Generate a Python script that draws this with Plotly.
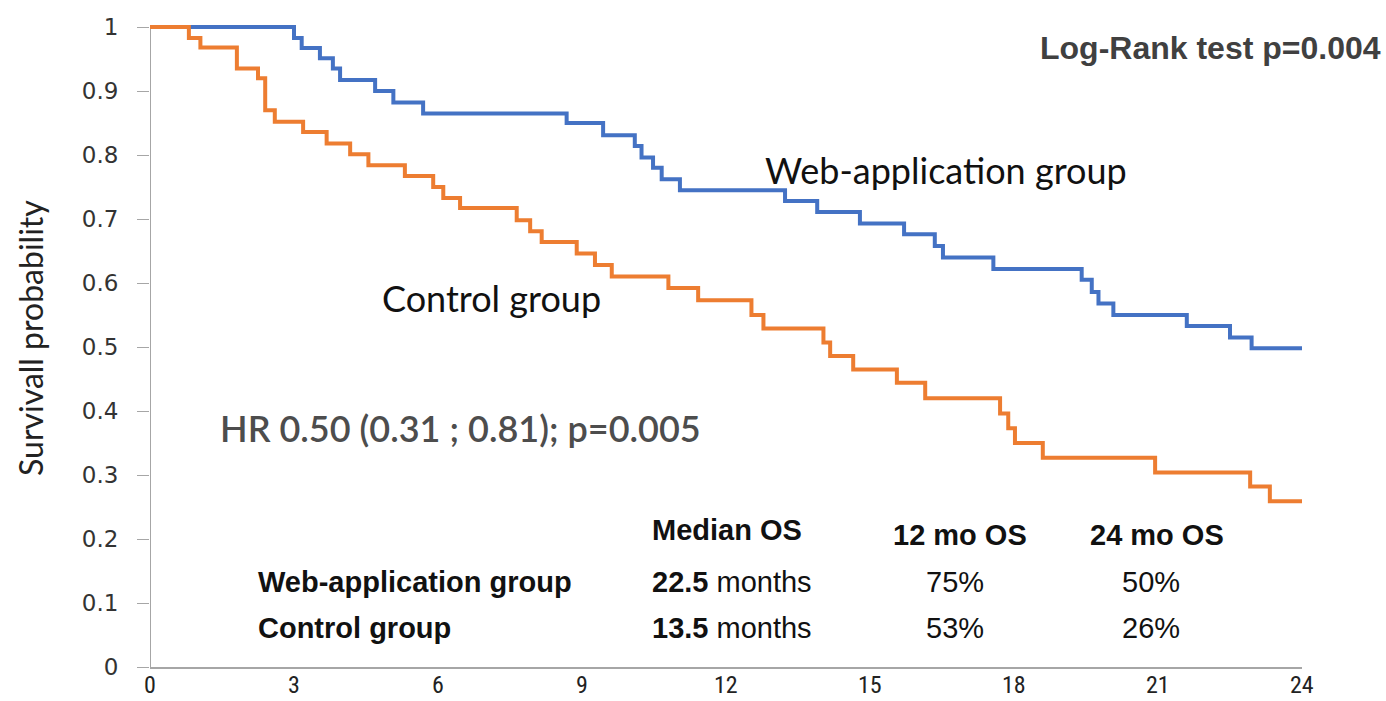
import plotly.graph_objects as go

# ---- data ----
web_months = [0, 3.0, 3.16, 3.54, 3.81, 3.96, 4.69, 5.07, 5.69, 8.68, 9.44, 10.1, 10.24, 10.48,
              10.66, 11.04, 13.23, 13.9, 14.79, 15.71, 16.35, 16.52, 17.57, 19.41, 19.62, 19.76,
              20.07, 21.6, 22.5, 22.95, 24]
web_surv = [1, 0.983, 0.967, 0.951, 0.935, 0.917, 0.90, 0.882, 0.865, 0.85, 0.831, 0.814, 0.796,
            0.78, 0.762, 0.745, 0.728, 0.711, 0.693, 0.676, 0.658, 0.64, 0.622, 0.605, 0.586,
            0.568, 0.55, 0.533, 0.515, 0.498, 0.498]

ctrl_months = [0, 0.81, 1.05, 1.81, 2.25, 2.4, 2.6, 3.19, 3.68, 4.17, 4.55, 5.31, 5.9, 6.11, 6.46,
               7.64, 7.92, 8.16, 8.89, 9.27, 9.62, 10.8, 11.42, 12.53, 12.78, 14.03, 14.17, 14.65,
               15.56, 16.15, 17.71, 17.88, 18.02, 18.6, 20.94, 22.92, 23.33, 24]
ctrl_surv = [1, 0.983, 0.968, 0.935, 0.92, 0.87, 0.852, 0.836, 0.818, 0.801, 0.784, 0.767, 0.75,
             0.733, 0.717, 0.698, 0.681, 0.664, 0.646, 0.628, 0.61, 0.592, 0.573, 0.55, 0.529,
             0.507, 0.486, 0.465, 0.444, 0.42, 0.396, 0.373, 0.35, 0.327, 0.304, 0.282, 0.259,
             0.259]

x_ticks = [0, 3, 6, 9, 12, 15, 18, 21, 24]
y_ticks = [0, 0.1, 0.2, 0.3, 0.4, 0.5, 0.6, 0.7, 0.8, 0.9, 1]
y_tick_labels = ["0", "0.1", "0.2", "0.3", "0.4", "0.5", "0.6", "0.7", "0.8", "0.9", "1"]

table_groups = ["Web-application group", "Control group"]
median_os = ["22.5", "13.5"]
os12 = ["75%", "53%"]
os24 = ["50%", "26%"]

BLUE = "#4472C4"
ORANGE = "#ED7D31"
AXIS = "#A6A6A6"

W, H = 1386, 701
L, R, T, B = 150, 84, 17, 34

fig = go.Figure()
fig.add_trace(go.Scatter(x=web_months, y=web_surv, mode="lines", line_shape="hv",
                         line=dict(color=BLUE, width=4), name="Web-application group"))
fig.add_trace(go.Scatter(x=ctrl_months, y=ctrl_surv, mode="lines", line_shape="hv",
                         line=dict(color=ORANGE, width=4), name="Control group"))

# y axis line (0..1)
fig.add_shape(type="line", xref="x", yref="y", x0=0, x1=0, y0=0, y1=1,
              line=dict(color=AXIS, width=2), layer="below")


def px_x(px):
    return (px - L) / (W - L - R)


def px_y(py):
    return (H - B - py) / (H - T - B)


ann = []
ann.append(dict(text="<b>Log-Rank test p=0.004</b>", x=px_x(1383), y=px_y(48), xanchor="right",
                font=dict(family="Liberation Sans, Arial", size=32, color="#404040")))
ann.append(dict(text="Web-application group", x=px_x(763), y=px_y(170), xanchor="left",
                font=dict(family="Lato", size=36, color="#111111")))
ann.append(dict(text="Control group", x=px_x(380), y=px_y(298), xanchor="left",
                font=dict(family="Lato", size=36, color="#111111")))
ann.append(dict(text="HR 0.50 (0.31 ; 0.81); p=0.005", x=px_x(218), y=px_y(428), xanchor="left",
                font=dict(family="Lato", size=36, color="#4d4d4d", weight=600)))
tf = dict(family="Liberation Sans, Arial", size=29, color="#111111")
ann.append(dict(text="<b>Median OS</b>", x=px_x(650), y=px_y(530), xanchor="left", font=tf))
ann.append(dict(text="<b>12 mo OS</b>", x=px_x(960), y=px_y(535), xanchor="center", font=tf))
ann.append(dict(text="<b>24 mo OS</b>", x=px_x(1157), y=px_y(535), xanchor="center", font=tf))
rows_y = [582, 628]
for i in range(2):
    ann.append(dict(text="<b>" + table_groups[i] + "</b>", x=px_x(256), y=px_y(rows_y[i]),
                    xanchor="left", font=tf))
    ann.append(dict(text="<b>" + median_os[i] + "</b> months", x=px_x(650), y=px_y(rows_y[i]),
                    xanchor="left", font=tf))
    ann.append(dict(text=os12[i], x=px_x(955), y=px_y(rows_y[i]), xanchor="center", font=tf))
    ann.append(dict(text=os24[i], x=px_x(1151), y=px_y(rows_y[i]), xanchor="center", font=tf))
ann.append(dict(text="Survivall probability", x=px_x(30), y=px_y(338), textangle=-90,
                xanchor="center", yanchor="middle",
                font=dict(family="Lato", size=32, color="#222222")))
for a in ann:
    a["xref"] = "paper"
    a["yref"] = "paper"
    a.setdefault("yanchor", "middle")
    a["showarrow"] = False

# x tick labels placed as annotations so they stay inside the page bottom
for v in x_ticks:
    ann.append(dict(text=str(v), x=v, xref="x", y=px_y(700), yref="paper",
                    xanchor="center", yanchor="bottom", showarrow=False, borderpad=0,
                    font=dict(family="Liberation Sans Narrow, Roboto Condensed, Liberation Sans",
                              size=24, color="#222222")))

fig.update_layout(
    width=W, height=H,
    margin=dict(l=L, r=R, t=T, b=B),
    paper_bgcolor="white", plot_bgcolor="white",
    showlegend=False,
    annotations=ann,
    xaxis=dict(range=[0, 24], tickvals=x_ticks, showticklabels=False,
               automargin=False,
               showgrid=False, zeroline=False, showline=True, linecolor=AXIS, linewidth=2,
               ticks=""),
    yaxis=dict(range=[0, (H - T - B) / 640.0], tickvals=y_ticks, ticktext=y_tick_labels,
               automargin=False,
               showgrid=False, zeroline=False, showline=False,
               ticks="outside", ticklen=12, tickcolor=AXIS, tickwidth=1, ticklabelstandoff=14,
               tickfont=dict(family="DejaVu Sans, Verdana", size=23, color="#333333")),
)

fig.write_html("out.html")
